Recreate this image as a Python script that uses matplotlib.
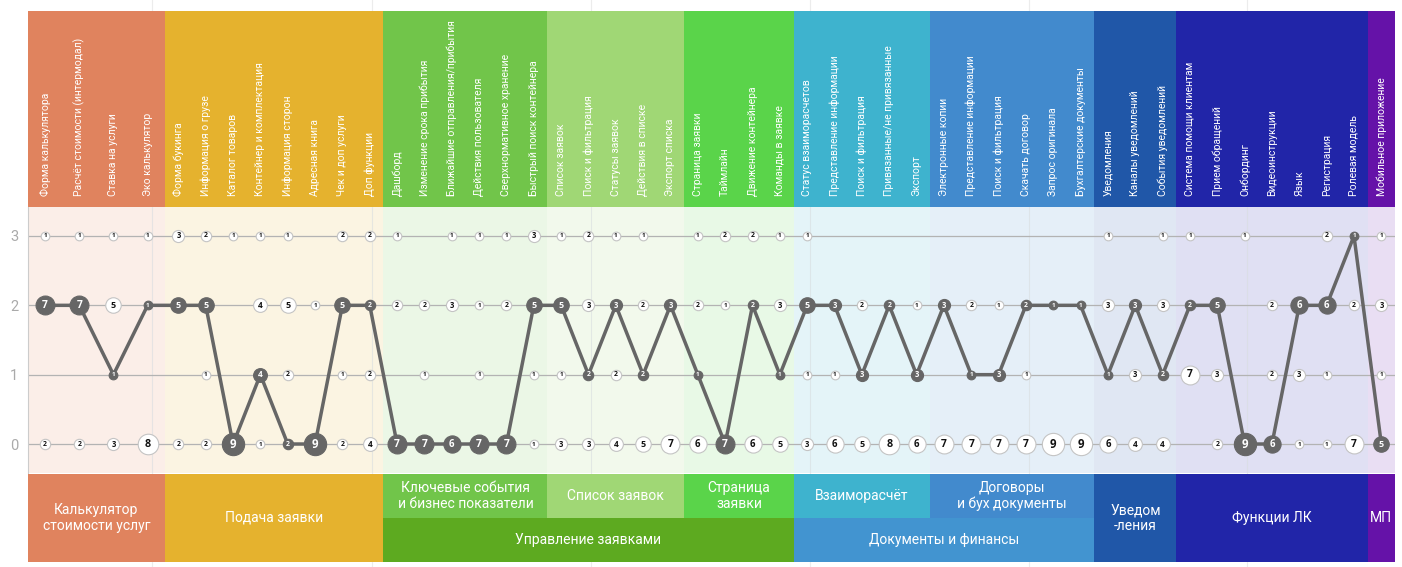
import matplotlib
matplotlib.use('Agg')
import matplotlib.pyplot as plt
from matplotlib.patches import Rectangle
from matplotlib.colors import to_rgb

plt.rcParams['font.family'] = ['Roboto', 'DejaVu Sans']

# ---------------- data ----------------
section_names = ['Калькулятор\nстоимости услуг', 'Подача заявки', 'Ключевые события\nи бизнес показатели',
                 'Список заявок', 'Страница\nзаявки', 'Взаиморасчёт', 'Договоры\nи бух документы',
                 'Уведом\n-ления', 'Функции ЛК', 'МП']
section_units = [5, 8, 6, 5, 4, 5, 6, 3, 7, 1]
section_colors = ['#E0835E', '#E5B22E', '#71C54A', '#A0D775', '#5AD44A',
                  '#3EB3CE', '#428ACD', '#2057A8', '#2125A8', '#6512A8']
section_has_group = [False, False, True, True, True, True, True, False, False, False]

group_names = ['Управление заявками', 'Документы и финансы']
group_sections = [(2, 4), (5, 6)]
group_colors = ['#5DAA20', '#4294D0']

feature_labels = [
    ['Форма калькулятора', 'Расчёт стоимости (интермодал)', 'Ставка на услуги', 'Эко калькулятор'],
    ['Форма букинга', 'Информация о грузе', 'Каталог товаров', 'Контейнер и комплектация',
     'Информация сторон', 'Адресная книга', 'Чек и доп услуги', 'Доп функции'],
    ['Дашборд', 'Изменение срока прибытия', 'Ближайшие отправления/прибытия', 'Действия пользователя',
     'Сверхнормативное хранение', 'Быстрый поиск контейнера'],
    ['Список заявок', 'Поиск и фильтрация', 'Статусы заявок', 'Действия в списке', 'Экспорт списка'],
    ['Страница заявки', 'Таймлайн', 'Движение контейнера', 'Команды в заявке'],
    ['Статус взаиморасчетов', 'Представление информации', 'Поиск и фильтрация',
     'Привязанные/не привязанные', 'Экспорт'],
    ['Электронные копии', 'Представление информации', 'Поиск и фильтрация', 'Скачать договор',
     'Запрос оригинала', 'Бухгалтерские документы'],
    ['Уведомления', 'Каналы уведомлений', 'События уведомлений'],
    ['Система помощи клиентам', 'Прием обращений', 'Онбординг', 'Видеоинструкции', 'Язык',
     'Регистрация', 'Ролевая модель'],
    ['Мобильное приложение'],
]

levels = [0, 1, 2, 3]
level_labels = ['0', '1', '2', '3']

count3 = [1, 1, 1, 1, 3, 2, 1, 1, 1, 0, 2, 2, 1, 0, 1, 1, 1, 3, 1, 2, 1, 1, 0, 1, 2, 2, 1,
          1, 0, 0, 0, 0, 0, 0, 0, 0, 0, 0, 1, 0, 1, 1, 0, 1, 0, 0, 2, 1, 1]
count2 = [7, 7, 5, 1, 5, 5, 0, 4, 5, 1, 5, 2, 2, 2, 3, 1, 2, 5, 5, 3, 3, 2, 3, 2, 1, 2, 3,
          5, 3, 2, 2, 1, 3, 2, 1, 2, 1, 1, 3, 3, 3, 2, 5, 0, 2, 6, 6, 2, 3]
count1 = [0, 0, 1, 0, 0, 1, 0, 4, 2, 0, 1, 2, 0, 1, 0, 1, 0, 1, 1, 2, 2, 2, 0, 1, 0, 0, 1,
          1, 1, 3, 0, 3, 0, 1, 3, 1, 0, 0, 1, 3, 2, 7, 3, 0, 2, 3, 1, 0, 1]
count0 = [2, 2, 3, 8, 2, 2, 9, 1, 2, 9, 2, 4, 7, 7, 6, 7, 7, 1, 3, 3, 4, 5, 7, 6, 7, 6, 5,
          3, 6, 5, 8, 6, 7, 7, 7, 7, 9, 9, 6, 4, 4, 0, 2, 9, 6, 1, 1, 7, 5]
selected = [2, 2, 1, 2, 2, 2, 0, 1, 0, 0, 2, 2, 0, 0, 0, 0, 0, 2, 2, 1, 2, 1, 2, 1, 0, 2, 1,
            2, 2, 1, 2, 1, 2, 1, 1, 2, 2, 2, 1, 2, 1, 2, 2, 0, 0, 2, 2, 3, 0]

vgrid = [4.55, 12.57, 20.58, 28.6, 36.6, 44.6]

# ---------------- layout ----------------
W, H = 1402, 567
fig = plt.figure(figsize=(W / 100, H / 100), dpi=100)

def fx(px):
    return px / W

def fy(py):
    return 1 - py / H

left_px, right_px = 28, 1395
total_units = sum(section_units)

sec_start = []
s = 0
for u in section_units:
    sec_start.append(s)
    s += u

xs = []
for si, labs in enumerate(feature_labels):
    n = len(labs)
    w = section_units[si]
    for i in range(n):
        xs.append(sec_start[si] + (i + 0.5) * w / n)

counts = [count0, count1, count2, count3]

def blend(c, a):
    r, g, b = to_rgb(c)
    return (1 - a + a * r, 1 - a + a * g, 1 - a + a * b)

# background axes for faint grid lines in white margins
bg = fig.add_axes([fx(left_px), 0, fx(right_px - left_px), 1], zorder=-5)
bg.set_xlim(0, total_units)
bg.set_ylim(0, 1)
bg.axis('off')
for v in vgrid:
    bg.axvline(v, color='#ececec', lw=0.8)

# header axes
hax = fig.add_axes([fx(left_px), fy(207), fx(right_px - left_px), (207 - 11) / H])
hax.set_xlim(0, total_units)
hax.set_ylim(0, 1)
hax.axis('off')
k = 0
for si, labs in enumerate(feature_labels):
    hax.add_patch(Rectangle((sec_start[si], 0), section_units[si], 1,
                            facecolor=section_colors[si], edgecolor='none'))
    for lab in labs:
        hax.text(xs[k], 0.056, lab, rotation=90, ha='center', va='bottom',
                 color='white', fontsize=7.5)
        k += 1

# main axes
ax = fig.add_axes([fx(left_px), fy(473), fx(right_px - left_px), (473 - 207) / H])
ax.set_xlim(0, total_units)
ax.set_ylim(-0.418, 3.418)
for si in range(len(section_units)):
    ax.add_patch(Rectangle((sec_start[si], -1), section_units[si], 6,
                           facecolor=blend(section_colors[si], 0.14), edgecolor='none', zorder=0))
for v in vgrid:
    ax.axvline(v, color='#d8dde0', lw=0.8, alpha=0.6, zorder=1)
for lv in levels:
    ax.axhline(lv, color='#b3b3b3', lw=0.9, zorder=2)

sel_y = selected
ax.plot(xs, sel_y, color='#666666', lw=2.5, zorder=3, solid_joinstyle='round')

for lv in levels:
    for i, x in enumerate(xs):
        n = counts[lv][i]
        if n == 0:
            continue
        d_px = 7 + 1.7 * n
        size = (d_px * 0.72) ** 2
        dark = (selected[i] == lv)
        ax.scatter([x], [lv], s=size, facecolor='#666666' if dark else 'white',
                   edgecolor='#666666' if dark else '#c4c4c4', linewidths=0.8, zorder=4)
        ax.text(x, lv, str(n), ha='center', va='center', fontsize=4.0 + 0.48 * n,
                fontweight='bold', family=['Open Sans', 'DejaVu Sans'],
                color='white' if dark else '#111111', zorder=5)

ax.set_xticks([])
ax.set_yticks(levels)
ax.set_yticklabels(level_labels, color='#aaaaaa', fontsize=10.5)
ax.tick_params(axis='y', length=0, pad=7)
for sp in ['top', 'right', 'bottom']:
    ax.spines[sp].set_visible(False)
ax.spines['left'].set_color('#cccccc')
ax.spines['left'].set_linewidth(0.8)

# footer axes
fax = fig.add_axes([fx(left_px), fy(562), fx(right_px - left_px), (562 - 474) / H])
fax.set_xlim(0, total_units)
fax.set_ylim(0, 1)
fax.axis('off')
for si, name in enumerate(section_names):
    x0, w = sec_start[si], section_units[si]
    if section_has_group[si]:
        fax.add_patch(Rectangle((x0, 0.5), w, 0.5, facecolor=section_colors[si], edgecolor='none'))
        fax.text(x0 + w / 2, 0.75, name, ha='center', va='center', color='white',
                 fontsize=10, linespacing=1.1)
    else:
        fax.add_patch(Rectangle((x0, 0), w, 1, facecolor=section_colors[si], edgecolor='none'))
        fax.text(x0 + w / 2, 0.5, name, ha='center', va='center', color='white',
                 fontsize=10, linespacing=1.1)
for gi, gname in enumerate(group_names):
    a, b = group_sections[gi]
    x0 = sec_start[a]
    x1 = sec_start[b] + section_units[b]
    fax.add_patch(Rectangle((x0, 0), x1 - x0, 0.5, facecolor=group_colors[gi], edgecolor='none'))
    fax.text((x0 + x1) / 2, 0.25, gname, ha='center', va='center', color='white', fontsize=10)

fig.savefig('out.png', dpi=100)
